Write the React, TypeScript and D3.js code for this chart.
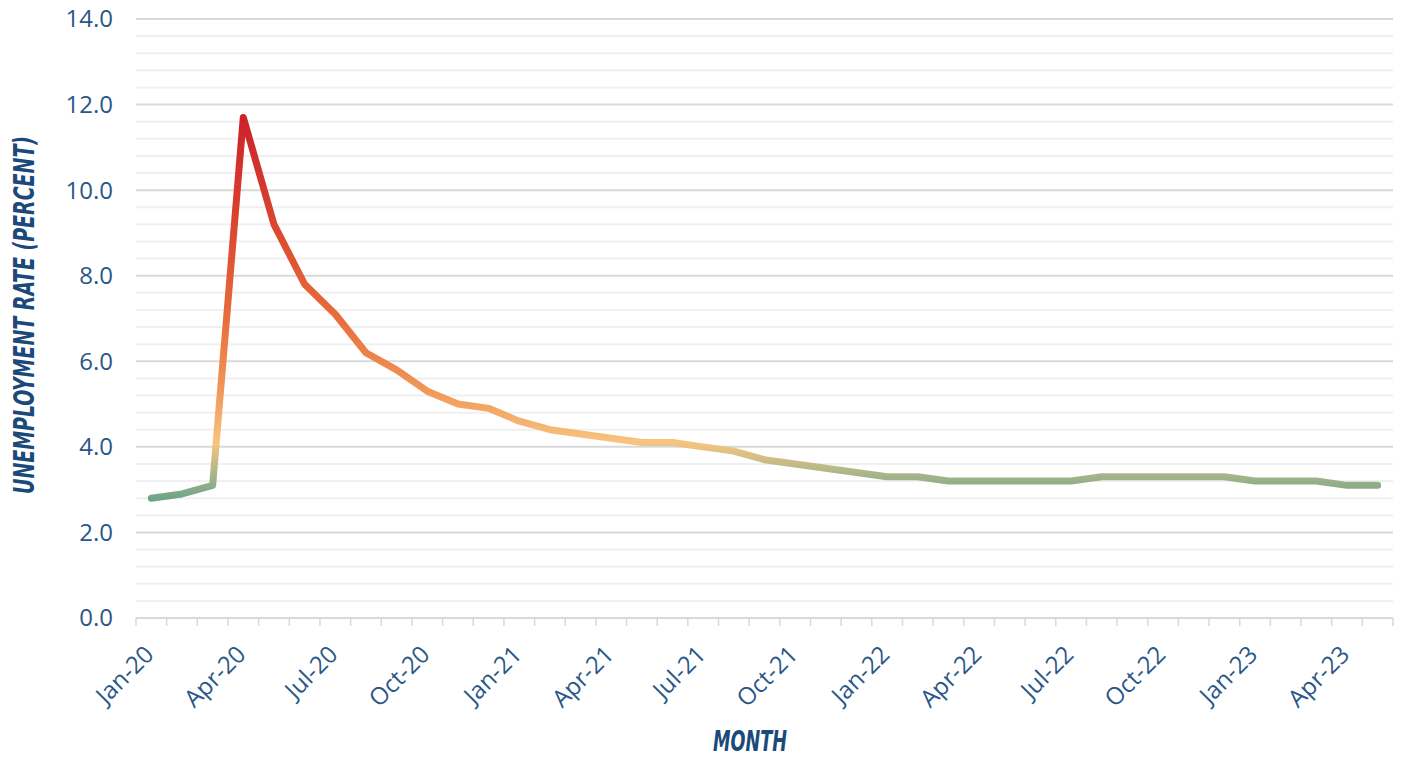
import React from "react";
import * as d3 from "d3";

const months: string[] = [
  "Jan-20","Feb-20","Mar-20","Apr-20","May-20","Jun-20","Jul-20","Aug-20","Sep-20","Oct-20","Nov-20","Dec-20",
  "Jan-21","Feb-21","Mar-21","Apr-21","May-21","Jun-21","Jul-21","Aug-21","Sep-21","Oct-21","Nov-21","Dec-21",
  "Jan-22","Feb-22","Mar-22","Apr-22","May-22","Jun-22","Jul-22","Aug-22","Sep-22","Oct-22","Nov-22","Dec-22",
  "Jan-23","Feb-23","Mar-23","Apr-23","May-23",
];
const rates: number[] = [
  2.8, 2.9, 3.1, 11.7, 9.2, 7.8, 7.1, 6.2, 5.8, 5.3, 5.0, 4.9,
  4.6, 4.4, 4.3, 4.2, 4.1, 4.1, 4.0, 3.9, 3.7, 3.6, 3.5, 3.4,
  3.3, 3.3, 3.2, 3.2, 3.2, 3.2, 3.2, 3.3, 3.3, 3.3, 3.3, 3.3,
  3.2, 3.2, 3.2, 3.1, 3.1,
];
const yTicks: number[] = [0, 2, 4, 6, 8, 10, 12, 14];
const gradValues: number[] = [2.8, 3.1, 3.4, 3.7, 4.1, 5.3, 7.0, 9.5, 11.7];
const gradColors: string[] = ["#6fa584", "#8fae87", "#adb68a", "#cfbd86", "#f7c47f", "#f09858", "#e86d3c", "#d8412e", "#cc2229"];

const W = 1402, H = 757;
const left = 136, right = 1393, top = 19, bottom = 618;

export default function App() {
  const x = d3.scaleBand<string>().domain(months).range([left, right]).padding(0);
  const y = d3.scaleLinear().domain([0, 14]).range([bottom, top]);
  const minor = d3.range(0, 14.0001, 0.4).filter((v) => Math.abs(v / 2 - Math.round(v / 2)) > 1e-6);
  const line = d3
    .line<number>()
    .x((_, i) => (x(months[i]) as number) + x.bandwidth() / 2)
    .y((d) => y(d));
  const yMin = d3.min(gradValues) as number;
  const yMax = d3.max(gradValues) as number;
  const textColor = "#2b5788";
  const titleColor = "#1b4a7a";
  return (
    <svg width={W} height={H} style={{ position: "absolute", left: 0, top: 0 }} fontFamily="'Open Sans', sans-serif">
      <defs>
        <linearGradient id="lg" gradientUnits="userSpaceOnUse" x1={0} x2={0} y1={y(yMin)} y2={y(yMax)}>
          {gradValues.map((v, i) => (
            <stop key={i} offset={(v - yMin) / (yMax - yMin)} stopColor={gradColors[i]} />
          ))}
        </linearGradient>
      </defs>
      <rect width={W} height={H} fill="#fff" />
      {minor.map((v, i) => (
        <line key={"m" + i} x1={left} x2={right} y1={y(v)} y2={y(v)} stroke="#f0f0f0" strokeWidth={2} />
      ))}
      {yTicks.map((v) => (
        <line key={"g" + v} x1={left} x2={right} y1={y(v)} y2={y(v)} stroke="#d9d9d9" strokeWidth={2} />
      ))}
      {months.map((m, i) => (
        <line key={"t" + i} x1={x(m) as number} x2={x(m) as number} y1={bottom} y2={bottom + 8} stroke="#d9d9d9" strokeWidth={1.5} />
      ))}
      <line x1={right} x2={right} y1={bottom} y2={bottom + 8} stroke="#d9d9d9" strokeWidth={1.5} />
      {yTicks.map((v) => (
        <text key={"yl" + v} x={113} y={y(v)} dy="0.35em" textAnchor="end" fontSize={24} fill={textColor}>
          {v.toFixed(1)}
        </text>
      ))}
      {months.map((m, i) =>
        i % 3 === 0 ? (
          <text
            key={"xl" + i}
            transform={`translate(${(x(m) as number) + x.bandwidth() / 2 - 2},${bottom + 32}) rotate(-45)`}
            textAnchor="end"
            dy="0.35em"
            fontSize={24}
            fill={textColor}
          >
            {m}
          </text>
        ) : null
      )}
      <path d={line(rates) as string} fill="none" stroke="url(#lg)" strokeWidth={7} strokeLinejoin="round" strokeLinecap="round" />
      <text
        x={750}
        y={751}
        textAnchor="middle"
        fontFamily="'DejaVu Sans Condensed', 'DejaVu Sans', sans-serif"
        fontWeight="bold"
        fontStyle="italic"
        fontSize={29}
        fill={titleColor}
        textLength={74}
        lengthAdjust="spacingAndGlyphs"
      >
        MONTH
      </text>
      <text
        transform={`translate(34,315) rotate(-90)`}
        textAnchor="middle"
        fontFamily="'DejaVu Sans Condensed', 'DejaVu Sans', sans-serif"
        fontWeight="bold"
        fontStyle="italic"
        fontSize={29}
        fill={titleColor}
        textLength={358}
        lengthAdjust="spacingAndGlyphs"
      >
        UNEMPLOYMENT RATE (PERCENT)
      </text>
    </svg>
  );
}
